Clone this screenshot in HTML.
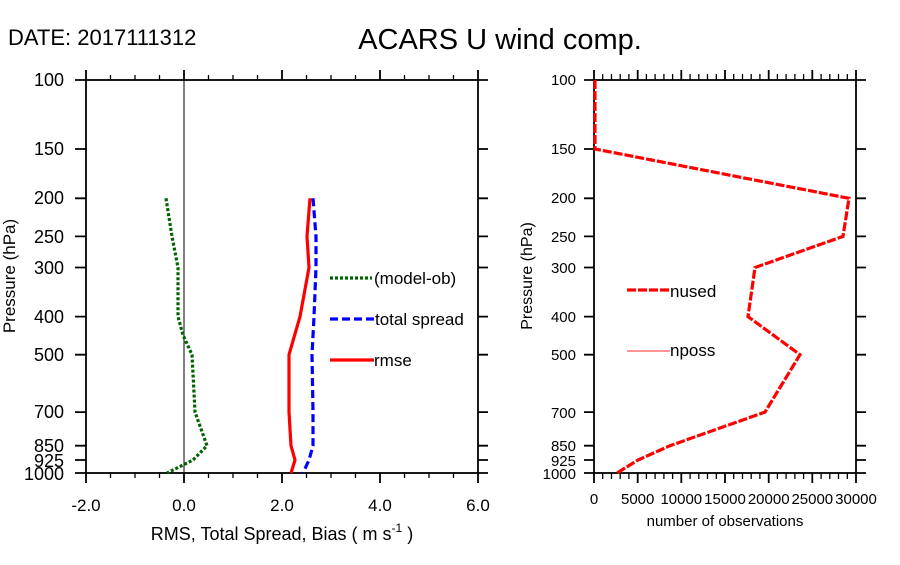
<!DOCTYPE html>
<html><head><meta charset="utf-8"><style>html,body{margin:0;padding:0;background:#fff}</style></head><body>
<svg width="900" height="560" xmlns="http://www.w3.org/2000/svg" font-family="Liberation Sans, sans-serif">
<rect width="900" height="560" fill="#fff"/>
<text x="8" y="45" font-size="22">DATE: 2017111312</text>
<text x="500" y="49" font-size="29" text-anchor="middle">ACARS U wind comp.</text>
<!-- LEFT -->
<g stroke="#000" stroke-width="1.8" fill="none">
<rect x="86" y="80" width="392" height="393"/>
<line x1="184" y1="80" x2="184" y2="473" stroke-width="1"/>
<path d="M75 80H86M75 149H86M75 198.3H86M75 236.4H86M75 267.5H86M75 316.6H86M75 354.7H86M75 412.1H86M75 445.7H86M75 460H86M75 473H86"/>
<path d="M478 80H488M478 149H488M478 198.3H488M478 236.4H488M478 267.5H488M478 316.6H488M478 354.7H488M478 412.1H488M478 445.7H488M478 460H488M478 473H488"/>
<path d="M86 70V80M184 70V80M282 70V80M380 70V80M478 70V80M86 473V483M184 473V483M282 473V483M380 473V483M478 473V483"/>
<path stroke-width="1.3" d="M110.5 75V80M135 75V80M159.5 75V80M208.5 75V80M233 75V80M257.5 75V80M306.5 75V80M331 75V80M355.5 75V80M404.5 75V80M429 75V80M453.5 75V80"/>
<path stroke-width="1.3" d="M110.5 473V478M135 473V478M159.5 473V478M208.5 473V478M233 473V478M257.5 473V478M306.5 473V478M331 473V478M355.5 473V478M404.5 473V478M429 473V478M453.5 473V478"/>
</g>
<g font-size="18" text-anchor="end">
<text x="64" y="86">100</text><text x="64" y="155">150</text><text x="64" y="204">200</text><text x="64" y="243">250</text><text x="64" y="274">300</text><text x="64" y="323">400</text><text x="64" y="361">500</text><text x="64" y="418">700</text><text x="64" y="452">850</text><text x="64" y="467">925</text><text x="64" y="480">1000</text>
</g>
<g font-size="17" text-anchor="middle">
<text x="86" y="511">-2.0</text><text x="184" y="511">0.0</text><text x="282" y="511">2.0</text><text x="380" y="511">4.0</text><text x="478" y="511">6.0</text>
</g>
<text x="282" y="540" font-size="18" text-anchor="middle">RMS, Total Spread, Bias ( m s<tspan font-size="12" dy="-8">-1</tspan><tspan dy="8"> )</tspan></text>
<text transform="translate(15,276) rotate(-90)" font-size="17" text-anchor="middle">Pressure (hPa)</text>
<polyline fill="none" stroke="#006400" stroke-width="3.2" stroke-dasharray="3,2" points="166,198.3 172,236.4 178,267.5 178,316.6 183,335 192,354.7 195,412.1 207,445.7 193,460 183,465 167,473"/>
<polyline fill="none" stroke="#00f" stroke-width="3.2" stroke-dasharray="8,4" points="313,198.3 316,236.4 316,267.5 314,316.6 312,354.7 313,412.1 313,445.7 309,460 303,473"/>
<polyline fill="none" stroke="#f00" stroke-width="3.2" points="310,198.3 307,236.4 309,267.5 300,316.6 289,354.7 289,412.1 291,445.7 295,460 291,473"/>
<line x1="330" y1="278" x2="372" y2="278" stroke="#006400" stroke-width="3.2" stroke-dasharray="3,2"/>
<line x1="330" y1="319" x2="374" y2="319" stroke="#00f" stroke-width="3.2" stroke-dasharray="8,4"/>
<line x1="330" y1="360" x2="374" y2="360" stroke="#f00" stroke-width="3.2"/>
<g font-size="17"><text x="374" y="284">(model-ob)</text><text x="375" y="325">total spread</text><text x="374" y="366">rmse</text></g>
<!-- RIGHT -->
<g stroke="#000" stroke-width="1.8" fill="none">
<rect x="594" y="80" width="262" height="393"/>
<path d="M584 80H594M584 149H594M584 198.3H594M584 236.4H594M584 267.5H594M584 316.6H594M584 354.7H594M584 412.1H594M584 445.7H594M584 460H594M584 473H594"/>
<path d="M856 80H866M856 149H866M856 198.3H866M856 236.4H866M856 267.5H866M856 316.6H866M856 354.7H866M856 412.1H866M856 445.7H866M856 460H866M856 473H866"/>
<path d="M594 70V80M637.7 70V80M681.3 70V80M725 70V80M768.7 70V80M812.3 70V80M856 70V80M594 473V483M637.7 473V483M681.3 473V483M725 473V483M768.7 473V483M812.3 473V483M856 473V483"/>
<path id="mn" stroke-width="1.3" d="M602.7 74V80M611.5 74V80M620.2 74V80M628.9 74V80M646.4 74V80M655.1 74V80M663.9 74V80M672.6 74V80M690.1 74V80M698.8 74V80M707.5 74V80M716.3 74V80M733.7 74V80M742.5 74V80M751.2 74V80M759.9 74V80M777.4 74V80M786.1 74V80M794.9 74V80M803.6 74V80M821.1 74V80M829.8 74V80M838.5 74V80M847.3 74V80"/>
<use href="#mn" transform="translate(0,399)"/>
</g>
<g font-size="15" text-anchor="end">
<text x="576" y="85">100</text><text x="576" y="154">150</text><text x="576" y="203">200</text><text x="576" y="242">250</text><text x="576" y="273">300</text><text x="576" y="322">400</text><text x="576" y="360">500</text><text x="576" y="418">700</text><text x="576" y="451">850</text><text x="576" y="466">925</text><text x="576" y="479">1000</text>
</g>
<g font-size="15" text-anchor="middle">
<text x="594" y="504">0</text><text x="637.7" y="504">5000</text><text x="681.3" y="504">10000</text><text x="725" y="504">15000</text><text x="768.7" y="504">20000</text><text x="812.3" y="504">25000</text><text x="856" y="504">30000</text>
<text x="725" y="526">number of observations</text>
</g>
<text transform="translate(532,276) rotate(-90)" font-size="16" text-anchor="middle">Pressure (hPa)</text>
<polyline fill="none" stroke="#f00" stroke-width="3.2" stroke-dasharray="9,2" points="595,80 595,149 849,198.3 843,236.4 755,267.5 748,316.6 800,354.7 765,412.1 670,445.7 638,460 617,473"/>
<line x1="627" y1="290" x2="670" y2="290" stroke="#f00" stroke-width="3.2" stroke-dasharray="9,2"/>
<line x1="627" y1="351" x2="670" y2="351" stroke="#f55" stroke-width="1.3"/>
<g font-size="17"><text x="670" y="297">nused</text><text x="670" y="356">nposs</text></g>
</svg>
</body></html>
